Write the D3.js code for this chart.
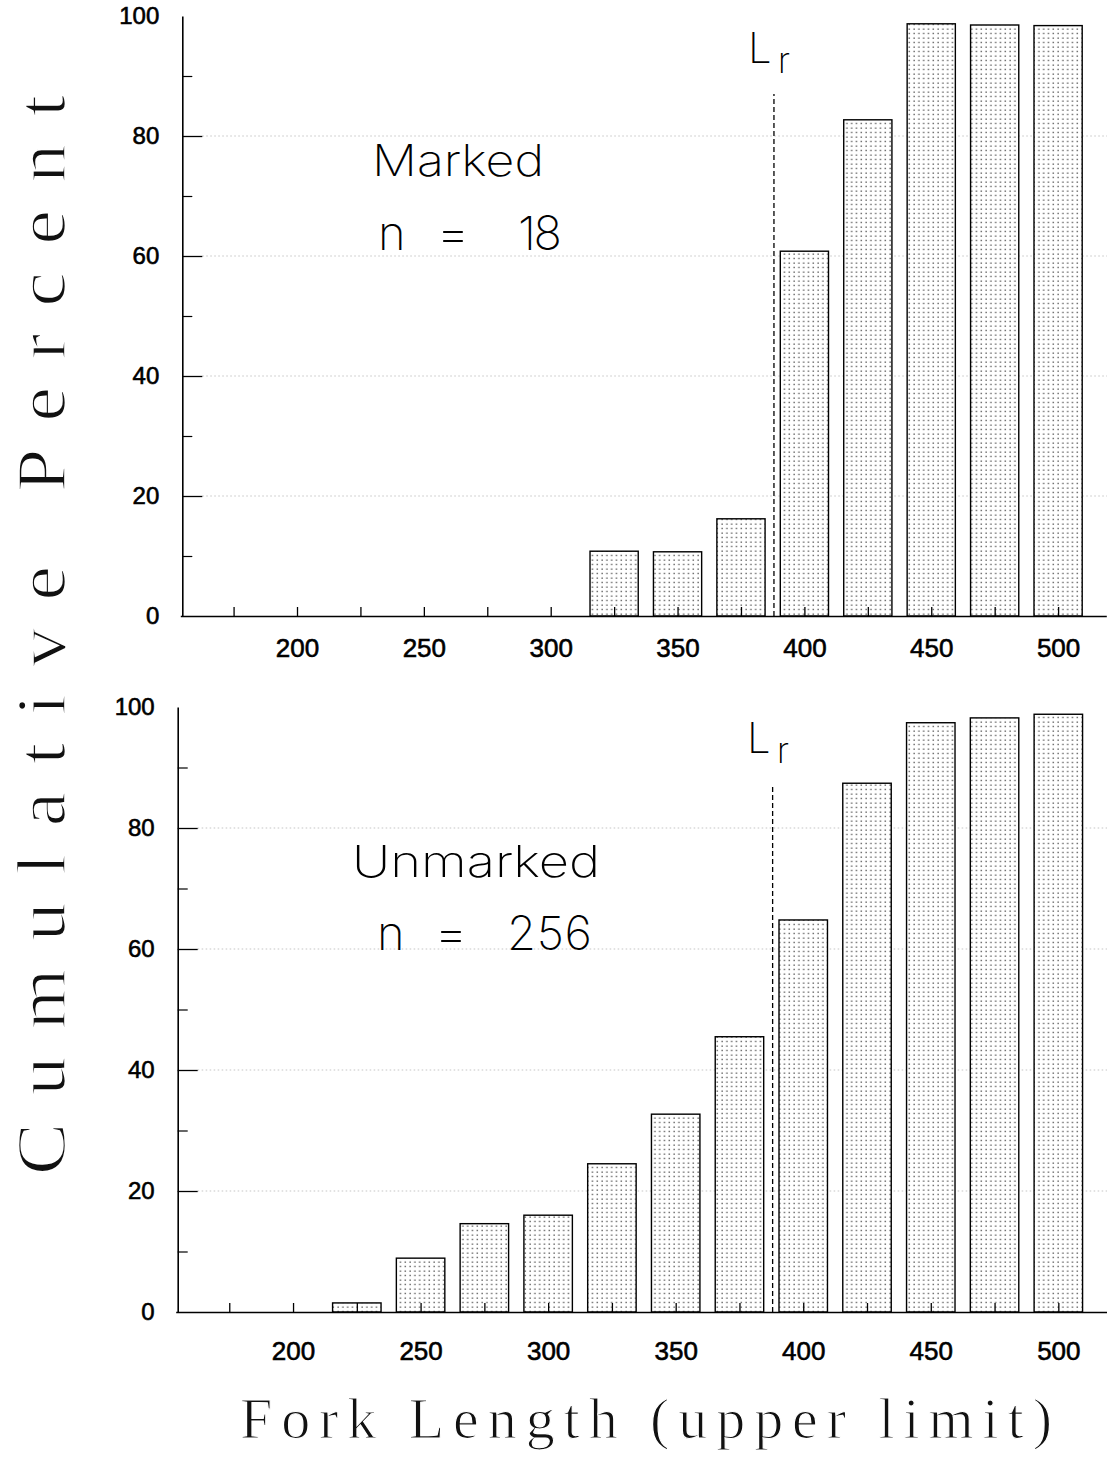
<!DOCTYPE html>
<html>
<head>
<meta charset="utf-8">
<script src="https://cdn.jsdelivr.net/npm/d3@7"></script>
<style>
  html, body { margin: 0; padding: 0; background: #fff; }
  svg { display: block; }
</style>
</head>
<body>
<svg id="chart" width="1107" height="1458"></svg>
<script>
// ---- data ----
const categories = [175, 200, 225, 250, 275, 300, 325, 350, 375, 400, 425, 450, 475, 500];
const markedValues   = [0, 0, 0, 0, 0, 0, 10.8, 10.7, 16.2, 60.8, 82.7, 98.7, 98.5, 98.4];
const unmarkedValues = [0, 0, 1.5, 8.9, 14.6, 16.0, 24.5, 32.7, 45.5, 64.8, 87.4, 97.4, 98.2, 98.8];
const xTickLabels = [200, 250, 300, 350, 400, 450, 500];
const yTickLabels = [0, 20, 40, 60, 80, 100];
const yMinorTicks = [10, 30, 50, 70, 90];
const gridValues = [20, 40, 60, 80];
const lrValue = 388;      // L_r reference length
const lrTop = 87;         // height (percent) where dashed L_r line ends
const panelNames = ["Marked", "Unmarked"];
const panelCounts = ["18", "256"];
const xTitle = "Fork Length (upper limit)";
const yTitle = "Cumulative Percent";

const svg = d3.select("#chart");

// stipple pattern for bar fill
const defs = svg.append("defs");
const pat = defs.append("pattern")
  .attr("id", "stipple").attr("patternUnits", "userSpaceOnUse")
  .attr("width", 4.8).attr("height", 4.5);
pat.append("rect").attr("width", 4.8).attr("height", 4.5).attr("fill", "#fff");
pat.append("rect").attr("x", 1.5).attr("y", 1.5).attr("width", 1.2).attr("height", 1.2).attr("fill", "#222");

const panels = [
  { values: markedValues, name: panelNames[0], count: panelCounts[0],
    xRange: [180.3, 1106.3], yRange: [616, 16], labelPad: 23,
    nameX: 372, nameY: 176, nameW: 172, nX: 378, eqX: 436, numX: 518, countY: 250, numW: 44,
    lrX: 748, lrY: 63 },
  { values: unmarkedValues, name: panelNames[1], count: panelCounts[1],
    xRange: [175.7, 1106.8], yRange: [1312, 707], labelPad: 30,
    nameX: 352, nameY: 877, nameW: 248, nX: 377, eqX: 434, numX: 507, countY: 950, numW: 85,
    lrX: 747, lrY: 753 }
];

const halfBar = 9.5; // half bar width in data units
const annFont = "Inter, 'Noto Sans', sans-serif";
const tickFont = "'Liberation Sans', Arial, sans-serif";

panels.forEach(p => {
  const x = d3.scaleLinear().domain([154, 519]).range(p.xRange);
  const y = d3.scaleLinear().domain([0, 100]).range(p.yRange);
  const g = svg.append("g");

  // faint dotted grid
  g.append("g").selectAll("line").data(gridValues).join("line")
    .attr("x1", x(154) + 22).attr("x2", 1107)
    .attr("y1", d => y(d)).attr("y2", d => y(d))
    .attr("stroke", "#888").attr("stroke-width", 0.8)
    .attr("stroke-dasharray", "1.5,2.5").attr("opacity", 0.6);

  // bars
  g.append("g").selectAll("rect").data(categories.map((c, i) => ({ c, v: p.values[i] }))).join("rect")
    .attr("x", d => x(d.c - halfBar))
    .attr("width", d => x(d.c + halfBar) - x(d.c - halfBar))
    .attr("y", d => y(d.v))
    .attr("height", d => y(0) - y(d.v))
    .attr("fill", "url(#stipple)")
    .attr("stroke", "#000").attr("stroke-width", 1.4);

  // L_r dashed line
  g.append("line")
    .attr("x1", x(lrValue)).attr("x2", x(lrValue))
    .attr("y1", y(0)).attr("y2", y(lrTop))
    .attr("stroke", "#000").attr("stroke-width", 1.3)
    .attr("stroke-dasharray", "5,3");

  // x axis
  const xAxis = d3.axisBottom(x).tickValues(categories)
    .tickSizeInner(-9).tickSizeOuter(0).tickPadding(p.labelPad)
    .tickFormat(d => xTickLabels.includes(d) ? d : "");
  const gx = g.append("g").attr("transform", `translate(0,${y(0)})`).call(xAxis);
  gx.select(".domain").attr("stroke-width", 1.6);
  gx.selectAll(".tick line").attr("stroke-width", 1.3);
  gx.selectAll("text").attr("font-family", tickFont)
    .attr("font-size", 26).attr("fill", "#000")
    .attr("stroke", "#000").attr("stroke-width", 0.6);

  // y axis major
  const yAxis = d3.axisLeft(y).tickValues(yTickLabels)
    .tickSizeInner(-20).tickSizeOuter(0).tickPadding(23);
  const gy = g.append("g").attr("transform", `translate(${x(154) + 2},0)`).call(yAxis);
  gy.select(".domain").attr("stroke-width", 1.6);
  gy.selectAll(".tick line").attr("stroke-width", 1.3)
    .attr("display", d => (d === 0 || d === 100) ? "none" : null);
  gy.selectAll("text").attr("font-family", tickFont)
    .attr("font-size", 24).attr("fill", "#000")
    .attr("stroke", "#000").attr("stroke-width", 0.6);

  // y axis minor
  const yMinor = d3.axisLeft(y).tickValues(yMinorTicks).tickSizeInner(-10).tickSizeOuter(0).tickFormat("");
  const gm = g.append("g").attr("transform", `translate(${x(154) + 2},0)`).call(yMinor);
  gm.select(".domain").remove();
  gm.selectAll(".tick line").attr("stroke-width", 1.2);

  // annotations
  g.append("text").attr("x", p.nameX).attr("y", p.nameY)
    .attr("font-family", annFont).attr("font-weight", 200).attr("font-size", 44)
    .attr("textLength", p.nameW).attr("lengthAdjust", "spacingAndGlyphs")
    .attr("fill", "#000").text(p.name);
  const ann = g.append("g").attr("font-family", annFont).attr("font-weight", 200)
    .attr("font-size", 47).attr("fill", "#000");
  ann.append("text").attr("x", p.nX).attr("y", p.countY).text("n");
  ann.append("text").attr("x", p.eqX).attr("y", p.countY)
    .attr("textLength", 34).attr("lengthAdjust", "spacingAndGlyphs").text("=");
  ann.append("text").attr("x", p.numX).attr("y", p.countY)
    .attr("textLength", p.numW).attr("lengthAdjust", "spacing").text(p.count);

  const lr = g.append("text").attr("x", p.lrX).attr("y", p.lrY)
    .attr("font-family", annFont).attr("font-weight", 200).attr("font-size", 42).attr("fill", "#000");
  lr.append("tspan").text("L");
  lr.append("tspan").attr("dx", 6).attr("dy", 10).attr("font-size", 36).text("r");
});

// axis titles (thin serif: white stroke over fill thins the stems)
svg.append("text")
  .attr("x", 646).attr("y", 1438)
  .attr("text-anchor", "middle")
  .attr("font-family", "'Liberation Serif', 'Times New Roman', serif")
  .attr("font-size", 58).attr("fill", "#111")
  .attr("stroke", "#fff").attr("stroke-width", 1.2)
  .attr("textLength", 812).attr("lengthAdjust", "spacing")
  .text(xTitle);

svg.append("text")
  .attr("transform", "translate(65,635) rotate(-90) scale(1.12,1)")
  .attr("text-anchor", "middle")
  .attr("font-family", "'Liberation Serif', 'Times New Roman', serif")
  .attr("font-size", 70).attr("fill", "#111")
  .attr("stroke", "#fff").attr("stroke-width", 1.6)
  .attr("textLength", 1080 / 1.12).attr("lengthAdjust", "spacing")
  .text(yTitle);
</script>
</body>
</html>
